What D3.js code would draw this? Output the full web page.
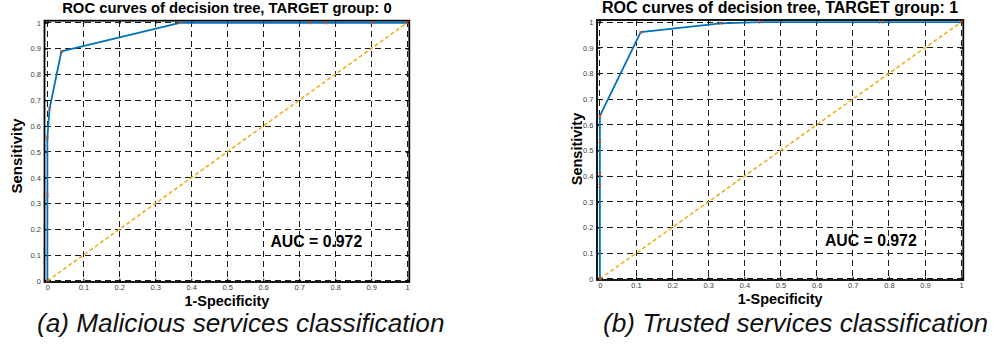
<!DOCTYPE html>
<html>
<head>
<meta charset="utf-8">
<script src="https://d3js.org/d3.v7.min.js"></script>
<style>
  body { margin: 0; background: #fff; }
  svg { display: block; font-family: "Liberation Sans", Arial, Helvetica, sans-serif; }
  .tick text { fill: #404040; font-size: 7.5px; }
  .tick line { stroke: #000; stroke-width: 1; }
  .grid line { stroke: #1a1a1a; stroke-width: 1; stroke-dasharray: 6,4; shape-rendering: crispEdges; }
</style>
</head>
<body>
<div id="chart"></div>
<script>
/*------------------------------
 DATA
 ----------------------------*/
// panel (a): TARGET group 0
const fpr0 = [0, 0, 0, 0.006, 0.039, 0.368, 0.728, 0.774, 0.904, 1];
const tpr0 = [0, 0.333, 0.556, 0.667, 0.889, 1, 1, 1, 1, 1];
// panel (b): TARGET group 1
const fpr1 = [0, 0, 0, 0, 0, 0.113, 0.334, 0.445, 0.778, 1];
const tpr1 = [0, 0.363, 0.408, 0.536, 0.635, 0.961, 0.995, 1, 1, 1];
// chance line
const chanceX = [0, 1];
const chanceY = [0, 1];

const TICKS = [0, 0.1, 0.2, 0.3, 0.4, 0.5, 0.6, 0.7, 0.8, 0.9, 1];
const TITLES = ["ROC curves of decision tree, TARGET group: 0", "ROC curves of decision tree, TARGET group: 1"];
const CAPTIONS = ["(a) Malicious services classification", "(b) Trusted services classification"];
const AUC_TEXT = ["AUC = 0.972", "AUC = 0.972"];
const X_LABEL = "1-Specificity";
const Y_LABEL = "Sensitivity";

/*------------------------------
 LAYOUT
 ----------------------------*/
const SVG_WIDTH = 999;
const SVG_HEIGHT = 344;
const BLUE = "#0072BD", ORANGE = "#D95319", YELLOW = "#EDB120";

const PANELS = [
  {fpr: fpr0, tpr: tpr0, title: TITLES[0], caption: CAPTIONS[0], auc: AUC_TEXT[0],
   left: 44.5, right: 409.3, top: 20.7, bottom: 282,
   titleSize: 14.8, titleY: 12.7, xlabY: 306, ylabX: 22, ylabY: 156, ylabSize: 15,
   capX: 37, capY: 331.5, aucX: 0.62, aucY: 0.132},
  {fpr: fpr1, tpr: tpr1, title: TITLES[1], caption: CAPTIONS[1], auc: AUC_TEXT[1],
   left: 597, right: 963.3, top: 20, bottom: 280,
   titleSize: 16, titleY: 13.3, xlabY: 303.5, ylabX: 582, ylabY: 149, ylabSize: 14.5,
   capX: 603, capY: 331.5, aucX: 0.623, aucY: 0.128}
];

const svg = d3.select("#chart").append("svg")
  .attr("width", SVG_WIDTH).attr("height", SVG_HEIGHT);
svg.append("rect").attr("width", SVG_WIDTH).attr("height", SVG_HEIGHT).attr("fill", "#fff");

/*------------------------------
 FUNCTIONS
 ----------------------------*/
function drawPanel(p) {
  const x = d3.scaleLinear().domain([-0.008, 1.006]).range([p.left, p.right]);
  const y = d3.scaleLinear().domain([-0.004, 1.008]).range([p.bottom, p.top]);
  const g = svg.append("g");
  const cx = (p.left + p.right) / 2;

  // grid
  const grid = g.append("g").attr("class", "grid");
  grid.selectAll(".gx").data(TICKS).enter().append("line")
    .attr("x1", d => x(d)).attr("x2", d => x(d))
    .attr("y1", p.top).attr("y2", p.bottom);
  grid.selectAll(".gy").data(TICKS).enter().append("line")
    .attr("y1", d => y(d)).attr("y2", d => y(d))
    .attr("x1", p.left).attr("x2", p.right);

  // axes, ticks pointing inward on all four sides
  g.append("g").attr("transform", `translate(0,${p.bottom})`)
    .call(d3.axisBottom(x).tickValues(TICKS).tickSize(-3.5).tickSizeOuter(0).tickPadding(3).tickFormat(d3.format("")))
    .call(a => a.select(".domain").remove());
  g.append("g").attr("transform", `translate(${p.left},0)`)
    .call(d3.axisLeft(y).tickValues(TICKS).tickSize(-3.5).tickSizeOuter(0).tickPadding(3.5).tickFormat(d3.format("")))
    .call(a => a.select(".domain").remove());
  g.append("g").attr("transform", `translate(0,${p.top})`)
    .call(d3.axisTop(x).tickValues(TICKS).tickSize(-3.5).tickSizeOuter(0).tickFormat(""))
    .call(a => a.select(".domain").remove());
  g.append("g").attr("transform", `translate(${p.right},0)`)
    .call(d3.axisRight(y).tickValues(TICKS).tickSize(-3.5).tickSizeOuter(0).tickFormat(""))
    .call(a => a.select(".domain").remove());
  g.selectAll(".tick text").attr("font-family", null).attr("font-size", null);

  // box
  g.append("rect")
    .attr("x", p.left).attr("y", p.top)
    .attr("width", p.right - p.left).attr("height", p.bottom - p.top)
    .attr("fill", "none").attr("stroke", "#000").attr("stroke-width", 1.8);

  // chance diagonal
  const chance = chanceX.map((v, i) => [v, chanceY[i]]);
  g.append("path").datum(chance)
    .attr("d", d3.line().x(d => x(d[0])).y(d => y(d[1])))
    .attr("fill", "none").attr("stroke", YELLOW).attr("stroke-width", 1.6)
    .attr("stroke-dasharray", "4,2.5");

  // ROC curve
  const pts = p.fpr.map((v, i) => [v, p.tpr[i]]);
  g.append("path").datum(pts)
    .attr("d", d3.line().x(d => x(d[0])).y(d => y(d[1])))
    .attr("fill", "none").attr("stroke", BLUE).attr("stroke-width", 1.8)
    .attr("stroke-linejoin", "round");

  // x markers
  const s = 1.6;
  g.selectAll(".mk").data(pts).enter().append("path")
    .attr("d", d => {
      const px = x(d[0]), py = y(d[1]);
      return `M${px - s},${py - s}L${px + s},${py + s}M${px - s},${py + s}L${px + s},${py - s}`;
    })
    .attr("stroke", ORANGE).attr("stroke-width", 1).attr("fill", "none");

  // AUC annotation
  g.append("text").attr("x", x(p.aucX)).attr("y", y(p.aucY))
    .attr("font-size", 15.8).attr("font-weight", "bold").attr("fill", "#000")
    .text(p.auc);

  // titles and labels
  g.append("text").attr("x", cx).attr("y", p.titleY)
    .attr("text-anchor", "middle").attr("font-size", p.titleSize).attr("font-weight", "bold")
    .text(p.title);
  g.append("text").attr("x", cx).attr("y", p.xlabY)
    .attr("text-anchor", "middle").attr("font-size", 14.4).attr("font-weight", "bold")
    .text(X_LABEL);
  g.append("text").attr("transform", `translate(${p.ylabX},${p.ylabY}) rotate(-90)`)
    .attr("text-anchor", "middle").attr("font-size", p.ylabSize).attr("font-weight", "bold")
    .text(Y_LABEL);
  g.append("text").attr("x", p.capX).attr("y", p.capY)
    .attr("font-size", 26.2).attr("font-style", "italic").attr("fill", "#111")
    .text(p.caption);
}

PANELS.forEach(drawPanel);
</script>
</body>
</html>
